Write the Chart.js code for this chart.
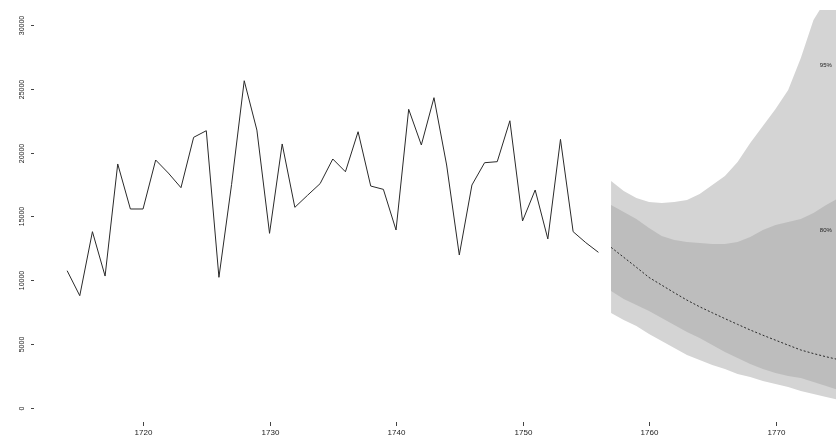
<!DOCTYPE html>
<html>
<head>
<meta charset="utf-8">
<script src="https://cdn.jsdelivr.net/npm/chart.js@4/dist/chart.umd.min.js"></script>
<style>
  html, body { margin: 0; padding: 0; background: #ffffff; }
  #wrap { width: 836px; height: 440px; position: relative; }
</style>
</head>
<body>
<div id="wrap"><canvas id="c" width="836" height="440"></canvas></div>
<script>
// Observed annual series
const histYears = [1714,1715,1716,1717,1718,1719,1720,1721,1722,1723,1724,1725,1726,1727,1728,1729,1730,1731,1732,1733,1734,1735,1736,1737,1738,1739,1740,1741,1742,1743,1744,1745,1746,1747,1748,1749,1750,1751,1752,1753,1754,1755,1756];
const histValues = [10730,8770,13790,10310,19100,15570,15570,19410,18390,17240,21190,21710,10210,17500,25630,21760,13660,20670,15700,16640,17560,19490,18490,21630,17370,17110,13920,23390,20590,24300,19020,11960,17450,19200,19280,22490,14630,17060,13220,21030,13790,12930,12170];

// Forecast horizon: point forecast and prediction intervals
const fcYears = [1757,1758,1759,1760,1761,1762,1763,1764,1765,1766,1767,1768,1769,1770,1771,1772,1773,1774,1775];
const fcMean  = [12560,11780,11000,10200,9600,9000,8420,7900,7430,6970,6520,6080,5670,5280,4890,4510,4230,3980,3750];
const hi80    = [15880,15330,14780,14080,13450,13140,12980,12900,12820,12820,12980,13370,13920,14310,14550,14780,15250,15880,16430];
const lo80    = [9140,8510,8040,7570,7020,6470,5920,5450,4900,4350,3880,3410,3020,2710,2470,2310,2000,1690,1370];
const hi95    = [17760,16980,16430,16120,16040,16120,16270,16740,17450,18160,19250,20740,22080,23410,24900,27410,30390,32000,34000];
const lo95    = [7410,6860,6390,5760,5220,4670,4120,3730,3330,3020,2630,2390,2080,1840,1610,1290,1060,820,590];

// Axis ticks
const xTicks = [1720,1730,1740,1750,1760,1770];
const yTicks = [0,5000,10000,15000,20000,25000,30000];

// Interval labels, placed at the right edge of the bands
const bandLabels = [
  { text: '95%', x: 1773.5, y: 26860 },
  { text: '80%', x: 1773.5, y: 13920 }
];

const pts = (xs, ys) => xs.map((x, i) => ({ x: x, y: ys[i] }));

const LIGHT = '#d4d4d4';
const DARK = '#bdbdbd';

// R-style axes: bare tick marks with small labels, y labels turned upright
const baseAxes = {
  id: 'baseAxes',
  afterDraw(chart) {
    const ctx = chart.ctx;
    const xs = chart.scales.x, ys = chart.scales.y;
    const area = chart.chartArea;
    ctx.save();
    ctx.fillStyle = '#222';
    ctx.strokeStyle = '#444';
    ctx.lineWidth = 1;
    ctx.font = '8px "Liberation Sans", Arial, sans-serif';
    ctx.textAlign = 'center';
    ctx.textBaseline = 'top';
    xTicks.forEach(v => {
      const px = Math.round(xs.getPixelForValue(v)) + 0.5;
      ctx.beginPath();
      ctx.moveTo(px, area.bottom + 2);
      ctx.lineTo(px, area.bottom + 6);
      ctx.stroke();
      ctx.fillText(String(v), px, area.bottom + 9);
    });
    ctx.font = '7px "Liberation Sans", Arial, sans-serif';
    yTicks.forEach(v => {
      const py = Math.round(ys.getPixelForValue(v)) + 0.5;
      ctx.beginPath();
      ctx.moveTo(area.left - 4, py);
      ctx.lineTo(area.left - 1, py);
      ctx.stroke();
      ctx.save();
      ctx.translate(area.left - 13, py);
      ctx.rotate(-Math.PI / 2);
      ctx.textAlign = 'center';
      ctx.textBaseline = 'middle';
      ctx.fillText(String(v), 0, 0);
      ctx.restore();
    });
    ctx.font = '6px "Liberation Sans", Arial, sans-serif';
    ctx.textAlign = 'left';
    ctx.textBaseline = 'middle';
    bandLabels.forEach(l => {
      ctx.fillText(l.text, xs.getPixelForValue(l.x), ys.getPixelForValue(l.y));
    });
    ctx.restore();
  }
};

new Chart(document.getElementById('c'), {
  type: 'line',
  data: {
    datasets: [
      { label: 'observed', data: pts(histYears, histValues), borderColor: '#2a2a2a', borderWidth: 1, pointRadius: 0, fill: false, tension: 0 },
      { label: 'forecast', data: pts(fcYears, fcMean), borderColor: '#2a2a2a', borderWidth: 1, borderDash: [2, 2], pointRadius: 0, fill: false, tension: 0 },
      { label: 'hi80', data: pts(fcYears, hi80), borderWidth: 0, borderColor: 'rgba(0,0,0,0)', backgroundColor: DARK, pointRadius: 0, fill: '+1', tension: 0 },
      { label: 'lo80', data: pts(fcYears, lo80), borderWidth: 0, borderColor: 'rgba(0,0,0,0)', pointRadius: 0, fill: false, tension: 0 },
      { label: 'hi95', data: pts(fcYears, hi95), borderWidth: 0, borderColor: 'rgba(0,0,0,0)', backgroundColor: LIGHT, pointRadius: 0, fill: '+1', tension: 0 },
      { label: 'lo95', data: pts(fcYears, lo95), borderWidth: 0, borderColor: 'rgba(0,0,0,0)', pointRadius: 0, fill: false, tension: 0 }
    ]
  },
  options: {
    responsive: false,
    animation: false,
    events: [],
    layout: { padding: { left: 35, top: 10, right: 0, bottom: 20 } },
    plugins: { legend: { display: false }, tooltip: { enabled: false } },
    scales: {
      x: { type: 'linear', min: 1711.46, max: 1774.78, display: false },
      y: { type: 'linear', min: -980, max: 31177, display: false }
    }
  },
  plugins: [baseAxes]
});
</script>
</body>
</html>
